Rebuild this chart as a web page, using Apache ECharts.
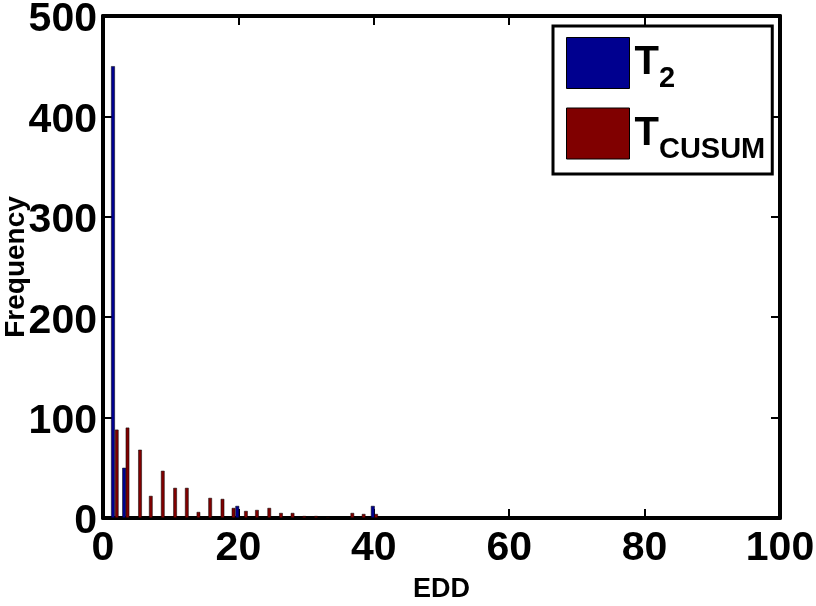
<!DOCTYPE html>
<html>
<head>
<meta charset="utf-8">
<script src="https://cdn.jsdelivr.net/npm/echarts@6/dist/echarts.min.js"></script>
<style>
  html, body { margin: 0; padding: 0; background: #fff; }
  #chart { width: 816px; height: 606px; }
</style>
</head>
<body>
<div id="chart"></div>
<script>
// bar centres (EDD) and counts
const t2X = [1.46, 3.11, 19.82, 39.84]
const t2Counts = [450, 50, 12, 12]
const cusumX = [2.03, 3.62, 5.47, 7.06, 8.83, 10.65, 12.38, 14.10, 15.83, 17.65, 19.28,
  21.11, 22.74, 24.56, 26.29, 28.00, 29.73, 31.46, 33.20, 36.83, 38.50, 40.34]
const cusumCounts = [88, 90, 68, 22, 47, 30, 30, 6, 20, 19, 10,
  7, 8, 10, 5, 5, 2, 2, 1, 5, 4, 4]
const xTicks = [0, 100, 20]   // min, max, interval
const yTicks = [0, 500, 100]

const FONT = "'Liberation Sans', Arial, sans-serif"

const pairs = (xs, ys) => xs.map((x, i) => [x, ys[i]])

const chart = echarts.init(document.getElementById('chart'))

const axisCommon = {
  axisLine: { show: true, onZero: false, lineStyle: { color: '#000', width: 4 } },
  axisTick: { show: true, inside: true, length: 9, lineStyle: { color: '#000', width: 2 } },
  splitLine: { show: false }
}
const tickFont = { color: '#000', fontFamily: FONT, fontWeight: 'bold', fontSize: 41 }

chart.setOption({
  animation: false,
  grid: { left: 103, right: 36, top: 16, bottom: 88, outerBoundsMode: 'none', containLabel: false },
  xAxis: [
    {
      type: 'value', min: xTicks[0], max: xTicks[1], interval: xTicks[2],
      ...axisCommon,
      axisLabel: { ...tickFont, margin: 10 },
      name: 'EDD', nameLocation: 'middle', nameGap: 58, nameMoveOverlap: false,
      nameTextStyle: { color: '#000', fontFamily: FONT, fontWeight: 'bold', fontSize: 27 }
    },
    {
      type: 'value', position: 'top', min: xTicks[0], max: xTicks[1], interval: xTicks[2],
      ...axisCommon, axisLabel: { show: false }
    }
  ],
  yAxis: [
    {
      type: 'value', min: yTicks[0], max: yTicks[1], interval: yTicks[2],
      ...axisCommon,
      axisLabel: {
        margin: 6,
        formatter: '{v|{value}}',
        rich: { v: { ...tickFont, padding: [8, 0, 0, 0] } }
      },
      name: 'Frequency', nameLocation: 'middle', nameGap: 73, nameRotate: 90, nameMoveOverlap: false,
      nameTextStyle: { color: '#000', fontFamily: FONT, fontWeight: 'bold', fontSize: 28 }
    },
    {
      type: 'value', position: 'right', min: yTicks[0], max: yTicks[1], interval: yTicks[2],
      ...axisCommon, axisLabel: { show: false }
    }
  ],
  legend: {
    orient: 'vertical', left: 553, top: 26,
    padding: [11, 7, 10, 13],
    itemWidth: 63, itemHeight: 51, itemGap: 14,
    borderColor: '#000', borderWidth: 3, backgroundColor: '#fff',
    icon: 'rect',
    itemStyle: { borderColor: '#000', borderWidth: 1 },
    formatter: name => name === 'T2' ? '{t|T}{s|2}' : '{t|T}{s|CUSUM}',
    textStyle: {
      rich: {
        t: { fontFamily: FONT, fontWeight: 'bold', fontSize: 40, color: '#000' },
        s: { fontFamily: FONT, fontWeight: 'bold', fontSize: 29, color: '#000', padding: [32, 0, 0, 0] }
      }
    },
    data: ['T2', 'TCUSUM']
  },
  series: [
    {
      name: 'T2', type: 'bar', data: pairs(t2X, t2Counts),
      barWidth: 3.8, barGap: '-100%',
      itemStyle: { color: '#00008f', borderColor: '#000', borderWidth: 0.5 }
    },
    {
      name: 'TCUSUM', type: 'bar', data: pairs(cusumX, cusumCounts),
      barWidth: 3.6, barGap: '-100%',
      itemStyle: { color: '#800000', borderColor: '#000', borderWidth: 0.5 }
    }
  ]
})
</script>
</body>
</html>
